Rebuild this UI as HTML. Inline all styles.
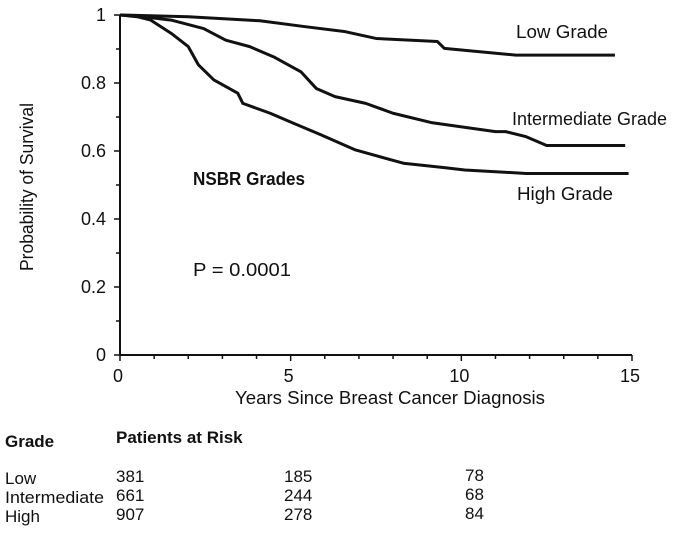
<!DOCTYPE html>
<html><head><meta charset="utf-8"><style>
body{margin:0;background:#fff;width:685px;height:538px;overflow:hidden}
svg{font-family:"Liberation Sans",Arial,sans-serif;fill:#111}
</style></head><body>
<svg id="chart" width="685" height="538">
<g id="axes"></g>
<g id="series"></g>
<text x="516" y="38" font-size="18" textLength="92" lengthAdjust="spacingAndGlyphs">Low Grade</text>
<text x="512" y="125" font-size="18" textLength="155" lengthAdjust="spacingAndGlyphs">Intermediate Grade</text>
<text x="517" y="200" font-size="18" textLength="96" lengthAdjust="spacingAndGlyphs">High Grade</text>
<text x="193" y="185" font-size="18" font-weight="bold" textLength="112" lengthAdjust="spacingAndGlyphs">NSBR Grades</text>
<text x="193" y="276" font-size="18" textLength="98" lengthAdjust="spacingAndGlyphs">P = 0.0001</text>
<text transform="translate(33,187) rotate(-90)" text-anchor="middle" font-size="18" textLength="168" lengthAdjust="spacingAndGlyphs">Probability of Survival</text>
<text x="235" y="404" font-size="18" textLength="310" lengthAdjust="spacingAndGlyphs">Years Since Breast Cancer Diagnosis</text>
<g font-size="17">
<text x="5" y="447" font-weight="bold">Grade</text>
<text x="116" y="443" font-weight="bold">Patients at Risk</text>
<text x="5" y="484">Low</text><text x="116" y="482">381</text><text x="284" y="482">185</text><text x="465" y="481">78</text>
<text x="5" y="503" textLength="99" lengthAdjust="spacingAndGlyphs">Intermediate</text><text x="116" y="501">661</text><text x="284" y="501">244</text><text x="465" y="500">68</text>
<text x="5" y="522">High</text><text x="116" y="520">907</text><text x="284" y="520">278</text><text x="465" y="519">84</text>
</g>
</svg>
<script>
const lowT=[0,2,4.1,5.4,6.6,7.5,9.3,9.5,11.6,14.5];
const lowS=[1,0.995,0.983,0.966,0.951,0.931,0.922,0.902,0.882,0.882];
const midT=[0,0.5,1.5,2.45,3.1,3.8,4.5,5.3,5.75,6.3,7.2,8.0,9.15,11.0,11.3,11.9,12.5,14.8];
const midS=[1,0.997,0.985,0.96,0.926,0.907,0.877,0.833,0.784,0.76,0.74,0.711,0.683,0.657,0.657,0.642,0.616,0.616];
const highT=[0,0.5,0.9,1.5,2.0,2.3,2.75,3.45,3.6,4.4,5.1,5.9,6.9,8.3,9.5,10.1,11.9,14.9];
const highS=[1,0.995,0.985,0.946,0.907,0.853,0.809,0.77,0.74,0.711,0.681,0.647,0.603,0.564,0.551,0.544,0.534,0.534];
const xTicks=[0,5,10,15];
const yTicks=[0,0.2,0.4,0.6,0.8,1];
const X=t=>120+t*(632-120)/15;
const Y=s=>355-s*340;
const NS='http://www.w3.org/2000/svg';
function mk(tag,attrs,parent){const e=document.createElementNS(NS,tag);for(const k in attrs)e.setAttribute(k,attrs[k]);parent.appendChild(e);return e;}
const ax=document.getElementById('axes');
let a=mk('line',{x1:X(0),y1:Y(0),x2:X(15),y2:Y(0),stroke:'#111','stroke-width':2},ax);


a=mk('line',{x1:X(0),y1:Y(0),x2:X(0),y2:Y(1),stroke:'#111','stroke-width':2},ax);


for(let i=0;i<=15;i++){const big=i%5===0;mk('line',{x1:X(i),y1:Y(0),x2:X(i),y2:Y(0)+(big?6:4),stroke:'#111','stroke-width':1.5},ax);}
for(let i=0;i<=10;i++){mk('line',{x1:X(0)-(i%2===0?6:4),y1:Y(i/10),x2:X(0),y2:Y(i/10),stroke:'#111','stroke-width':1.5},ax);}
xTicks.forEach(t=>{const e=mk('text',{x:X(t)-2,y:382,'text-anchor':'middle','font-size':18},ax);e.textContent=t;

});
yTicks.forEach(v=>{const e=mk('text',{x:106,y:Y(v)+6,'text-anchor':'end','font-size':18},ax);e.textContent=String(v);

});
const sg=document.getElementById('series');
function curve(T,S,name){let d='M'+X(T[0])+','+Y(S[0]);
for(let i=1;i<T.length;i++){const flat=(S[i]===S[i-1]);
if(flat){d+='H'+X(T[i]);}else{d+='L'+X(T[i])+','+Y(S[i]);}}
const p=mk('path',{d:d,fill:'none',stroke:'#111','stroke-width':3,'stroke-linejoin':'round'},sg);

}
curve(lowT,lowS,'low-grade-curve');
curve(midT,midS,'intermediate-grade-curve');
curve(highT,highS,'high-grade-curve');
</script>
</body></html>
